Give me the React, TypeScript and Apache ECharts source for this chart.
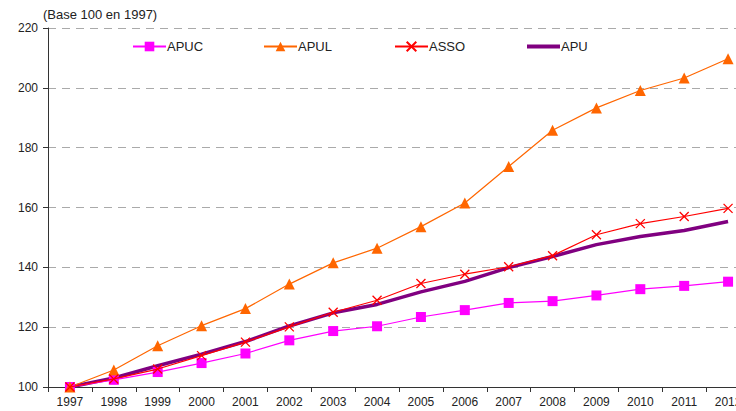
import React, { useEffect, useRef } from "react";
import * as echarts from "echarts";

const years = ["1997","1998","1999","2000","2001","2002","2003","2004","2005","2006","2007","2008","2009","2010","2011","2012"];
const apuc = [100, 102.4, 105.0, 108.0, 111.2, 115.6, 118.7, 120.3, 123.4, 125.7, 128.1, 128.7, 130.6, 132.7, 133.8, 135.2];
const apul = [100, 105.7, 113.8, 120.5, 126.2, 134.4, 141.5, 146.4, 153.6, 161.5, 173.7, 185.8, 193.3, 199.1, 203.3, 209.7];
const asso = [100, 102.7, 106.0, 110.5, 115.0, 120.1, 125.0, 129.0, 134.6, 137.7, 140.2, 143.9, 150.9, 154.6, 157.0, 159.7];
const apu = [100, 103.0, 107.1, 111.0, 115.2, 120.4, 124.8, 127.6, 131.8, 135.3, 139.9, 143.6, 147.6, 150.3, 152.3, 155.3];
const yTicks = [100, 120, 140, 160, 180, 200, 220];

const FONT = "Liberation Sans, Arial, sans-serif";

export default function App() {
  const ref = useRef<HTMLDivElement>(null);
  useEffect(() => {
    const chart = echarts.init(ref.current!, null, { renderer: "svg" });
    const legendBase = {
      top: 40,
      itemWidth: 33,
      itemHeight: 12,
      itemGap: 0,
      textStyle: { fontFamily: FONT, fontSize: 13, color: "#222", padding: [0, 0, 0, -4] },
      padding: 0,
    };
    chart.setOption({
      animation: false,
      backgroundColor: "#fff",
      textStyle: { fontFamily: FONT },
      title: {
        text: "(Base 100 en 1997)",
        left: 43,
        top: 8,
        padding: 0,
        textStyle: { fontFamily: FONT, fontSize: 13, fontWeight: "normal", color: "#222" },
      },
      legend: [
        { ...legendBase, left: 132, data: ["APUC"] },
        { ...legendBase, left: 263, data: ["APUL"] },
        { ...legendBase, left: 394, data: ["ASSO"] },
        {
          ...legendBase,
          left: 527,
          top: 40,
          itemHeight: 4,
          data: [{ name: "APU", icon: "rect" }],
        },
      ],
      grid: { left: 48, top: 28, bottom: 24, right: 0, containLabel: false },
      xAxis: {
        type: "category",
        data: years,
        boundaryGap: true,
        axisLine: { lineStyle: { color: "#333", width: 1 } },
        axisTick: { show: true, length: 5, lineStyle: { color: "#333" } },
        axisLabel: { fontFamily: FONT, fontSize: 12, color: "#222", margin: 9 },
      },
      yAxis: {
        type: "value",
        min: yTicks[0],
        max: yTicks[yTicks.length - 1],
        interval: 20,
        axisLine: { show: true, lineStyle: { color: "#333", width: 1 } },
        axisTick: { show: true, length: 5, lineStyle: { color: "#333" } },
        axisLabel: { fontFamily: FONT, fontSize: 12, color: "#222", margin: 10 },
        splitLine: { show: true, lineStyle: { color: "#aaa", type: [8, 6], width: 1 } },
      },
      series: [
        {
          name: "APUC",
          type: "line",
          data: apuc,
          symbol: "rect",
          symbolSize: 10,
          itemStyle: { color: "#ff00ff" },
          lineStyle: { color: "#ff00ff", width: 1.2 },
          z: 3,
        },
        {
          name: "APUL",
          type: "line",
          data: apul,
          symbol: "triangle",
          symbolSize: 11,
          itemStyle: { color: "#ff6600" },
          lineStyle: { color: "#ff6600", width: 1.2 },
          z: 3,
        },
        {
          name: "APU",
          type: "line",
          data: apu,
          symbol: "none",
          itemStyle: { color: "#800080" },
          lineStyle: { color: "#800080", width: 3.5 },
          z: 2,
        },
        {
          name: "ASSO",
          type: "line",
          data: asso,
          symbol: "path://M0,0L10,10M10,0L0,10",
          symbolSize: 9,
          itemStyle: { color: "rgba(0,0,0,0)", borderColor: "#ff0000", borderWidth: 1.3 },
          lineStyle: { color: "#ff0000", width: 1.2 },
          z: 4,
        },
      ],
    });
    return () => chart.dispose();
  }, []);
  return (
    <div style={{ position: "absolute", left: 0, top: 0, width: 736, height: 411, overflow: "hidden" }}>
      <div ref={ref} style={{ width: 750, height: 411 }} />
    </div>
  );
}
